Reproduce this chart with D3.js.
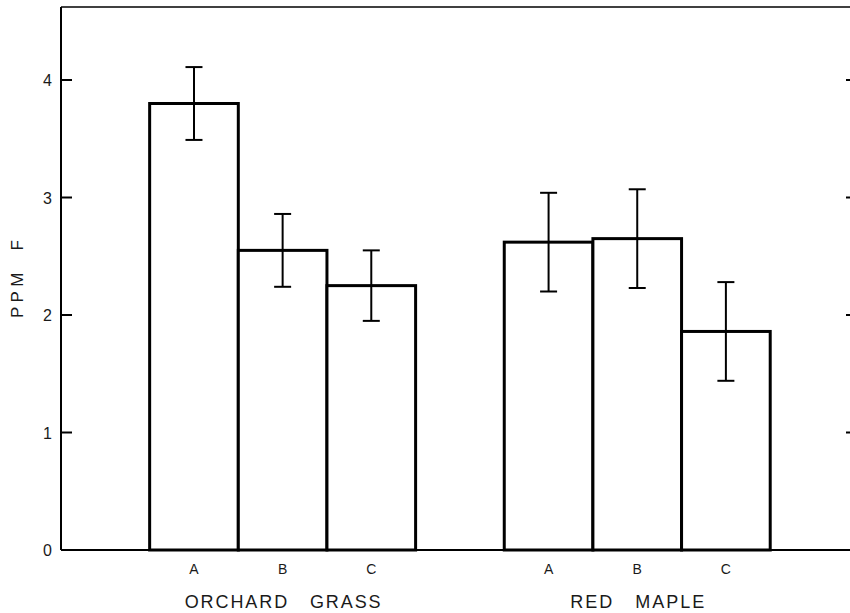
<!DOCTYPE html>
<html lang="en">
<head>
    <meta charset="UTF-8">
    <title>PPM F by plant and site</title>
    <script src="https://d3js.org/d3.v7.min.js"></script>
    <style>
        body { margin: 0; background: white; }
        svg { display: block; }
        text { font-family: "Liberation Sans", Arial, sans-serif; fill: #1a1a1a; }
        .bar { fill: white; stroke: black; stroke-width: 3px; }
        .err { stroke: black; stroke-width: 2px; }
        .frame { stroke: black; stroke-width: 2px; }
    </style>
</head>
<body>
    <svg width="850" height="613"></svg>

    <script>
        // data
        const groups = ["ORCHARD GRASS", "RED MAPLE"];
        const sites = ["A", "B", "C"];
        const means = [3.80, 2.55, 2.25, 2.62, 2.65, 1.86];
        const errors = [0.31, 0.31, 0.30, 0.42, 0.42, 0.42];
        const yTicks = [0, 1, 2, 3, 4];

        const svg = d3.select("svg");
        const plotLeft = 61, plotRight = 850, plotTop = 7, plotBottom = 550;

        // each bar takes one slot; slot 0 and 4 are empty gaps
        const x = d3.scaleLinear().domain([0, 8.9]).range([plotLeft, plotRight]);
        const y = d3.scaleLinear().domain([0, 4]).range([plotBottom, 80]);
        const slotW = x(1) - x(0);

        let bars = [];
        groups.forEach((g, gi) => {
            sites.forEach((s, si) => {
                let i = gi * 3 + si;
                bars.push({ group: g, site: s, slot: 1 + gi * 4 + si, mean: means[i], err: errors[i] });
            });
        });

        // frame: left axis, top line
        svg.append("line").attr("class", "frame")
            .attr("x1", plotLeft).attr("x2", plotLeft).attr("y1", plotTop).attr("y2", plotBottom);
        svg.append("line").attr("class", "frame").style("stroke-width", "1.5px")
            .attr("x1", plotLeft).attr("x2", plotRight).attr("y1", plotTop).attr("y2", plotTop);

        // y ticks, inward on the left, short on the right
        svg.selectAll(".ytick").data(yTicks.slice(1)).enter().append("line")
            .attr("class", "frame")
            .attr("x1", plotLeft).attr("x2", plotLeft + 11)
            .attr("y1", d => y(d)).attr("y2", d => y(d));
        svg.selectAll(".rtick").data(yTicks.slice(1)).enter().append("line")
            .attr("class", "frame")
            .attr("x1", plotRight - 4).attr("x2", plotRight)
            .attr("y1", d => y(d)).attr("y2", d => y(d));
        svg.selectAll(".ylab").data(yTicks).enter().append("text")
            .attr("x", plotLeft - 9).attr("y", d => y(d) + 6)
            .attr("text-anchor", "end").style("font-size", "16px")
            .text(d => d);

        svg.append("text")
            .attr("transform", "translate(23,279) rotate(-90)")
            .attr("text-anchor", "middle").style("font-size", "17px")
            .style("white-space", "pre")
            .attr("textLength", 78).attr("lengthAdjust", "spacing")
            .text("PPM  F");

        // bars
        svg.selectAll(".bar").data(bars).enter().append("rect")
            .attr("class", "bar")
            .attr("x", d => x(d.slot)).attr("width", slotW)
            .attr("y", d => y(d.mean)).attr("height", d => y(0) - y(d.mean));

        // bottom axis drawn over the bar bases
        svg.append("line").attr("class", "frame")
            .attr("x1", plotLeft).attr("x2", plotRight).attr("y1", plotBottom).attr("y2", plotBottom);

        // error bars
        const cx = d => x(d.slot + 0.5);
        const eb = svg.selectAll(".eb").data(bars).enter().append("g");
        eb.append("line").attr("class", "err")
            .attr("x1", cx).attr("x2", cx)
            .attr("y1", d => y(d.mean + d.err)).attr("y2", d => y(d.mean - d.err));
        eb.append("line").attr("class", "err")
            .attr("x1", d => cx(d) - 8.5).attr("x2", d => cx(d) + 8.5)
            .attr("y1", d => y(d.mean + d.err)).attr("y2", d => y(d.mean + d.err));
        eb.append("line").attr("class", "err")
            .attr("x1", d => cx(d) - 8.5).attr("x2", d => cx(d) + 8.5)
            .attr("y1", d => y(d.mean - d.err)).attr("y2", d => y(d.mean - d.err));

        // site labels and group labels
        svg.selectAll(".site").data(bars).enter().append("text")
            .attr("x", cx).attr("y", 574)
            .attr("text-anchor", "middle").style("font-size", "14px")
            .text(d => d.site);

        const groupWidths = [196, 134];
        svg.selectAll(".grp").data(groups).enter().append("text")
            .attr("x", (d, i) => x(2.5 + i * 4)).attr("y", 608)
            .attr("text-anchor", "middle").style("font-size", "18px")
            .style("white-space", "pre")
            .attr("textLength", (d, i) => groupWidths[i]).attr("lengthAdjust", "spacing")
            .text(d => d.replace(" ", "   "));
    </script>
</body>
</html>
